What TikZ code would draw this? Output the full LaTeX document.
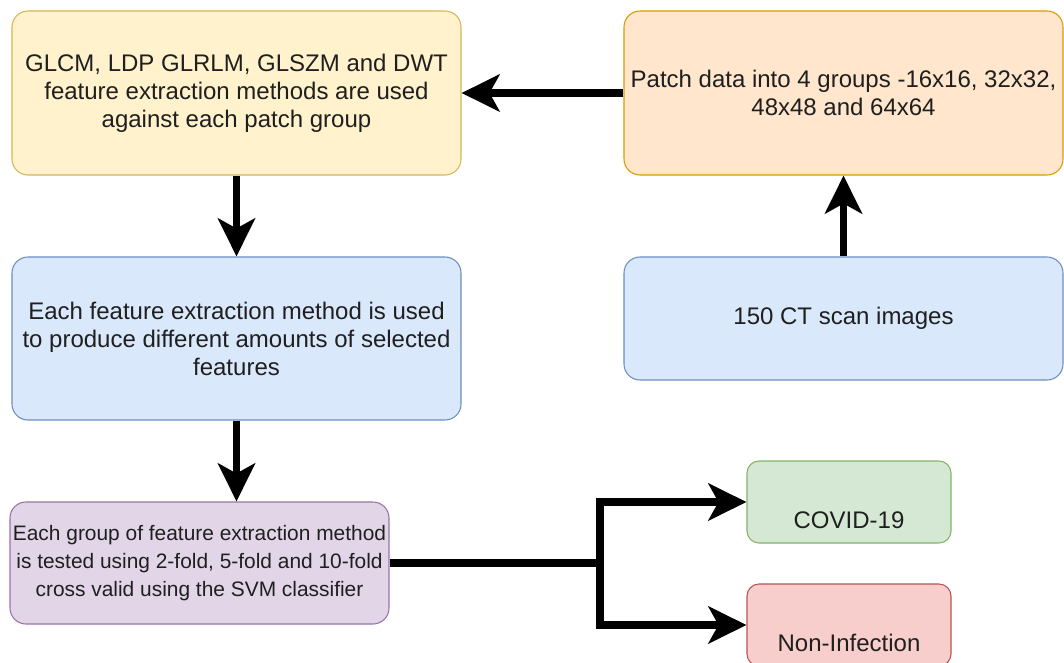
\documentclass[tikz,border=0pt]{standalone}
\usepackage{fontspec}
\setmainfont{Liberation Sans}
\usetikzlibrary{arrows.meta}

\definecolor{ylwfill}{HTML}{FFF2CC}\definecolor{ylwline}{HTML}{D6B656}
\definecolor{orgfill}{HTML}{FFE6CC}\definecolor{orgline}{HTML}{D79B00}
\definecolor{bluefill}{HTML}{DAE8FC}\definecolor{blueline}{HTML}{6C8EBF}
\definecolor{purfill}{HTML}{E1D5E7}\definecolor{purline}{HTML}{9673A6}
\definecolor{grnfill}{HTML}{D5E8D4}\definecolor{grnline}{HTML}{82B366}
\definecolor{redfill}{HTML}{F8CECC}\definecolor{redline}{HTML}{B85450}

\begin{document}
\begin{tikzpicture}[
  box/.style={rectangle, rounded corners=0.32cm, draw, line width=0.6pt, inner sep=0pt, align=center, text=black!88, font=\fontsize{13.66}{15.9}\selectfont},
  classbox/.style={box, rounded corners=0.24cm, minimum width=4.08cm, minimum height=1.64cm, text height=1.06cm, text depth=0pt},
  flow/.style={line width=0.15cm, -{Stealth[length=0.76cm, width=0.74cm, inset=0.2cm]}},
]
\useasboundingbox (0,0) rectangle (21.28,13.24);

\node[box, fill=ylwfill, draw=ylwline, minimum width=8.98cm, minimum height=3.28cm] (extract) at (4.73, 11.38)
  {GLCM, LDP GLRLM, GLSZM and DWT\\feature extraction methods are used\\against each patch group};
\node[box, fill=orgfill, draw=orgline, minimum width=8.78cm, minimum height=3.28cm] (patch) at (16.87, 11.38)
  {Patch data into 4 groups -16x16, 32x32,\\48x48 and 64x64};
\node[box, fill=bluefill, draw=blueline, minimum width=8.78cm, minimum height=2.46cm] (scans) at (16.87, 6.87)
  {150 CT scan images};
\node[box, fill=bluefill, draw=blueline, minimum width=8.98cm, minimum height=3.26cm] (select) at (4.73, 6.47)
  {Each feature extraction method is used\\to produce different amounts of selected\\features};
\node[box, fill=purfill, draw=purline, minimum width=7.58cm, minimum height=2.44cm, font=\fontsize{11.9}{15.9}\selectfont] (svm) at (3.99, 1.98)
  {Each group of feature extraction method\\is tested using 2-fold, 5-fold and 10-fold\\cross valid using the SVM classifier};

\node[classbox, fill=grnfill, draw=grnline] (covid) at (16.98, 3.20) {COVID-19};
\node[classbox, fill=redfill, draw=redline] (noninf) at (16.98, 0.74) {Non-Infection};

\coordinate (split) at (12.0, 1.98);

\draw[flow] (scans) -- (patch);
\draw[flow] (patch) -- (extract);
\draw[flow] (extract) -- (select);
\draw[flow] (select) -- (select.south |- svm.north);
\draw[flow] (svm.east) -- (split) |- (covid.west);
\draw[flow] (split) |- (noninf.west);

\end{tikzpicture}
\end{document}
